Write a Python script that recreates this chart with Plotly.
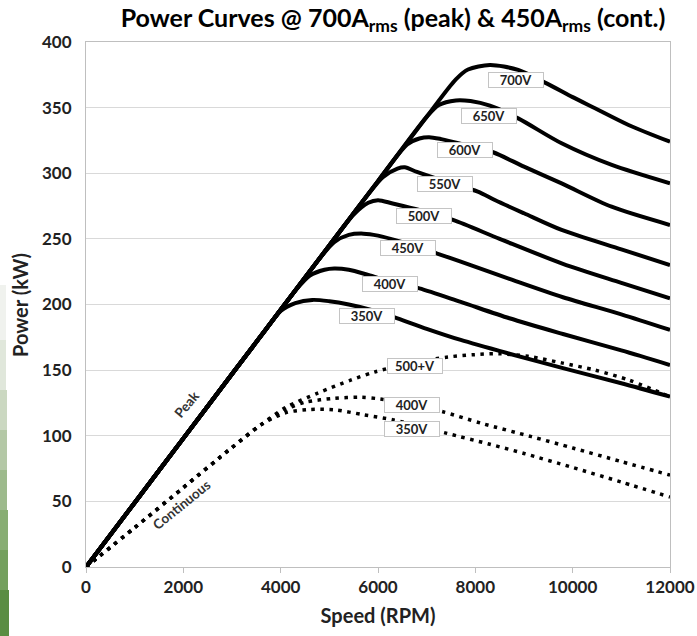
import plotly.graph_objects as go

# ---- Peak power curves (kW vs RPM), one per DC bus voltage ----
peak_rpm = {
    "350V": [0, 1000, 2000, 3000, 3700, 4000, 4300, 4650, 5000, 5400, 5900, 6400, 7000, 7700, 8700, 9800, 11000, 12000],
    "400V": [0, 1000, 2000, 3000, 4000, 4300, 4600, 4900, 5100, 5400, 5800, 6300, 6850, 7700, 8700, 9800, 11000, 12000],
    "450V": [0, 1000, 2000, 3000, 4000, 4800, 5100, 5400, 5700, 6000, 6500, 7200, 7700, 8700, 9800, 11000, 12000],
    "500V": [0, 1000, 2000, 3000, 4000, 5000, 5500, 5800, 6000, 6300, 6900, 7540, 8500, 9800, 11000, 12000],
    "550V": [0, 1000, 2000, 3000, 4000, 5000, 5800, 6100, 6400, 6550, 6800, 7400, 8050, 8400, 9000, 9773, 11000, 12000],
    "600V": [0, 1000, 2000, 3000, 4000, 5000, 6000, 6600, 6850, 7050, 7300, 7800, 8365, 9000, 9773, 10800, 12000],
    "650V": [0, 1000, 2000, 3000, 4000, 5000, 6000, 7000, 7250, 7600, 7900, 8300, 8880, 9773, 10804, 12000],
    "700V": [0, 1000, 2000, 3000, 4000, 5000, 6000, 7000, 7600, 7850, 8300, 8880, 9464, 10000, 10460, 11148, 12000],
}
peak_kw = {
    "350V": [0, 49, 98, 147, 181, 195, 201, 203.5, 202.5, 200, 195.5, 189.5, 181.5, 173, 162.5, 151.5, 140, 129.8],
    "400V": [0, 49, 98, 147, 196, 210.5, 222, 226.5, 227.5, 226.5, 222.5, 217, 212.3, 202, 189.5, 177.5, 165, 153.9],
    "450V": [0, 49, 98, 147, 196, 235, 247.5, 253, 254, 252.5, 247.5, 239, 232.6, 219.5, 205.5, 192.5, 180.6],
    "500V": [0, 49, 98, 147, 196, 245, 268.5, 277.5, 279.5, 277, 271.5, 264.4, 250, 231, 216.5, 204.7],
    "550V": [0, 49, 98, 147, 196, 245, 284, 297, 303.5, 304.5, 301, 293.5, 286, 279.6, 269.5, 256.8, 242, 230.1],
    "600V": [0, 49, 98, 147, 196, 245, 294, 322, 326.5, 327.5, 326, 321.5, 316, 305, 292.3, 274.5, 260.6],
    "650V": [0, 49, 98, 147, 196, 245, 294, 343, 352, 355.5, 355, 351.5, 341.8, 322.8, 306.3, 292.3],
    "700V": [0, 49, 98, 147, 196, 245, 294, 343, 371.5, 379, 382.5, 378.7, 368.5, 358, 349.5, 336.8, 324],
}

# ---- Continuous power curves ----
cont_rpm = {
    "350V": [0, 1000, 2000, 3000, 3600, 4100, 4600, 5100, 5700, 6300, 6900, 7400, 8300, 9000, 10000, 11000, 12000],
    "400V": [0, 1000, 2000, 3000, 3600, 4100, 4500, 5100, 5650, 6050, 6700, 7333, 8124, 9155, 10000, 11000, 12000],
    "500+V": [0, 1000, 2000, 3000, 3600, 4100, 4750, 5450, 5950, 6700, 7437, 7986, 8470, 9086, 9773, 10460, 11148, 11835, 12000],
}
cont_kw = {
    "350V": [0, 30, 60.5, 91, 108.5, 117.5, 120, 119.8, 116, 112.2, 107, 102, 93.5, 86.5, 75.8, 64.7, 53.3],
    "400V": [0, 30, 60.5, 91, 108.5, 120, 125.5, 128.5, 129.3, 128, 124, 118.3, 109.5, 99.3, 90.7, 80.3, 70],
    "500+V": [0, 30, 60.5, 91, 108.5, 121.5, 132.3, 142.5, 148.8, 155.5, 160, 161.8, 162.5, 160.5, 155.5, 150, 142.5, 132.3, 129.5],
}

# Voltage tags placed on the curves: (text, rpm, kW)
peak_tags = [
    ("700V", 8845, 370.7), ("650V", 8278, 343.8), ("600V", 7780, 317.5),
    ("550V", 7385, 292.0), ("500V", 6938, 267.6), ("450V", 6612, 243.4),
    ("400V", 6251, 215.5), ("350V", 5769, 191.4),
]
cont_tags = [("500+V", 6766, 153.3), ("400V", 6697, 123.2), ("350V", 6697, 105.0)]

x_ticks = [0, 2000, 4000, 6000, 8000, 10000, 12000]
y_ticks = [0, 50, 100, 150, 200, 250, 300, 350, 400]

FONT = "Lato"
TXT = "#222222"

fig = go.Figure()

for name in peak_rpm:
    fig.add_trace(go.Scatter(
        x=peak_rpm[name], y=peak_kw[name], mode="lines", name=name,
        line=dict(color="black", width=4, shape="spline", smoothing=0.8),
        hoverinfo="skip", showlegend=False,
    ))

for name in cont_rpm:
    fig.add_trace(go.Scatter(
        x=cont_rpm[name], y=cont_kw[name], mode="lines", name=name,
        line=dict(color="black", width=3.5, dash="3.5px,5.5px", shape="spline", smoothing=0.8),
        hoverinfo="skip", showlegend=False,
    ))

annotations = []
for text, xr, yk in peak_tags + cont_tags:
    annotations.append(dict(
        x=xr, y=yk, xref="x", yref="y", text=f"<b>{text}</b>", showarrow=False,
        bgcolor="white", bordercolor="#c4c4c4", borderwidth=1, borderpad=1,
        width=52, height=12, font=dict(family=FONT, size=13, color=TXT),
    ))

annotations.append(dict(
    x=2076, y=124, xref="x", yref="y", text="<b>Peak</b>", showarrow=False,
    textangle=-50, font=dict(family=FONT, size=13.5, color="#333333"),
))
annotations.append(dict(
    x=1955, y=47.2, xref="x", yref="y", text="<b>Continuous</b>", showarrow=False,
    textangle=-39, font=dict(family=FONT, size=13.5, color="#333333"),
))

# Left-edge backdrop strip (green photo fringe), drawn as soft bands
plot_l, plot_w, plot_b, plot_h = 86, 584, 69, 525
def px_x(p):
    return (p - plot_l) / plot_w
def px_y(p):
    return (636 - plot_b - p) / plot_h

# y-axis title placed as a rotated annotation
annotations.append(dict(
    x=px_x(20), y=px_y(305), xref="paper", yref="paper", text="<b>Power (kW)</b>",
    showarrow=False, textangle=-90, xanchor="center", yanchor="middle",
    font=dict(family=FONT, size=20, color=TXT),
))

strip = [
    (285, 340, 6, "#f0f2ee"),
    (340, 390, 6, "#e0e7db"),
    (390, 430, 7, "#cbd8c1"),
    (430, 470, 7, "#b4c8a6"),
    (470, 510, 7, "#9dba8c"),
    (510, 550, 8, "#88ad73"),
    (550, 590, 8, "#74a05e"),
    (590, 636, 9, "#5a8d42"),
]
shapes = []
for y0, y1, w, col in strip:
    shapes.append(dict(
        type="rect", xref="paper", yref="paper",
        x0=px_x(0), x1=px_x(w), y0=px_y(y1), y1=px_y(y0),
        fillcolor=col, line=dict(width=0), layer="below",
    ))

fig.update_layout(
    width=697, height=636, autosize=False,
    margin=dict(l=plot_l, r=697 - plot_l - plot_w, t=42, b=plot_b),
    paper_bgcolor="white", plot_bgcolor="white",
    title=dict(
        text="<b>Power Curves @ 700A<sub>rms</sub> (peak) &amp; 450A<sub>rms</sub> (cont.)</b>",
        x=px_x(393), xref="paper", xanchor="center",
        y=1 - 18 / 636, yref="container", yanchor="middle",
        font=dict(family=FONT, size=25, color="black"),
    ),
    xaxis=dict(
        range=[0, 12000], tickvals=x_ticks, ticktext=[f"<b>{v}</b>" for v in x_ticks],
        showgrid=False, zeroline=False, showline=True, linecolor="#bfbfbf", linewidth=1,
        mirror=True, ticks="outside", ticklen=5, tickcolor="#bfbfbf", automargin=False,
        tickfont=dict(family=FONT, size=17, color=TXT),
        title=dict(text="<b>Speed (RPM)</b>", font=dict(family=FONT, size=20, color=TXT), standoff=12),
    ),
    yaxis=dict(
        range=[0, 400], tickvals=y_ticks, ticktext=[f"<b>{v}</b>" for v in y_ticks],
        showgrid=True, gridcolor="#d9d9d9", gridwidth=1, zeroline=False,
        showline=True, linecolor="#bfbfbf", linewidth=1, mirror=True, ticks="",
        ticklabelstandoff=10, automargin=False,
        tickfont=dict(family=FONT, size=17, color=TXT),
    ),
    annotations=annotations,
    shapes=shapes,
)

fig.write_html("out.html")
